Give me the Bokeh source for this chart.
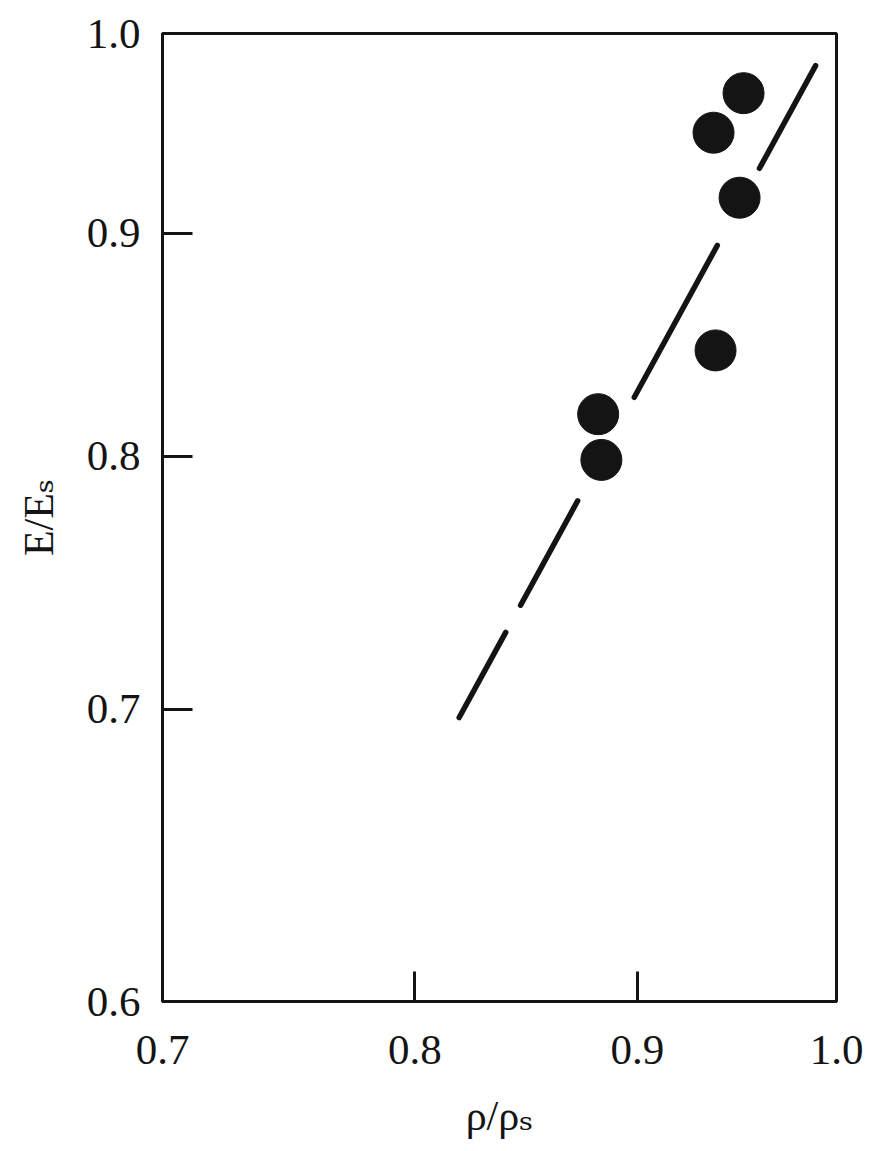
from bokeh.plotting import figure
from bokeh.models import Range1d, FixedTicker, PrintfTickFormatter
from bokeh.embed import file_html
from bokeh.resources import INLINE

# ---- data ----
rho_ratio = [0.952, 0.937, 0.950, 0.938, 0.8815, 0.883]
E_ratio = [0.969, 0.949, 0.917, 0.846, 0.818, 0.7985]
fit_rho = [0.819, 0.990]
fit_E = [0.697, 0.985]
x_ticks = [0.7, 0.8, 0.9, 1.0]
y_ticks = [0.6, 0.7, 0.8, 0.9, 1.0]
x_title = "ρ/ρₛ"
y_title = "E/Eₛ"

FONT = "Liberation Serif, DejaVu Serif, serif"
INK = "#141414"

p = figure(
    x_axis_type="log", y_axis_type="log",
    x_range=Range1d(0.7, 1.0), y_range=Range1d(0.6, 1.0),
    frame_width=674, frame_height=968,
    min_border_left=162, min_border_top=33, min_border_right=30, min_border_bottom=145,
    output_backend="svg", toolbar_location=None,
    background_fill_color="white", border_fill_color="white",
)
p.grid.visible = False
p.outline_line_color = INK
p.outline_line_width = 3

for ax, ticks, title in ((p.xaxis[0], x_ticks, x_title), (p.yaxis[0], y_ticks, y_title)):
    ax.ticker = FixedTicker(ticks=ticks)
    ax.formatter = PrintfTickFormatter(format="%.1f")
    ax.axis_line_color = INK
    ax.axis_line_width = 3
    ax.major_tick_in = 30
    ax.major_tick_out = 0
    ax.major_tick_line_color = INK
    ax.major_tick_line_width = 3
    ax.minor_tick_line_color = None
    ax.major_label_text_font = FONT
    ax.major_label_text_font_size = "43px"
    ax.major_label_text_color = INK
    ax.axis_label = title
    ax.axis_label_text_font = FONT
    ax.axis_label_text_font_size = "42px"
    ax.axis_label_text_font_style = "normal"
    ax.axis_label_text_color = INK

p.yaxis[0].major_label_standoff = 22
p.xaxis[0].major_label_standoff = 34
p.yaxis[0].axis_label_standoff = 22
p.xaxis[0].axis_label_standoff = 26

# fitted line (hand-drawn dashes)
p.line(fit_rho, fit_E, line_color=INK, line_width=5.5, line_cap="round",
       line_dash="97 31 119 118 173 88 117 200")

# data points
p.scatter(rho_ratio, E_ratio, size=41, fill_color=INK, line_color=INK, line_width=1)

open("out.html", "w").write(file_html(p, INLINE))
